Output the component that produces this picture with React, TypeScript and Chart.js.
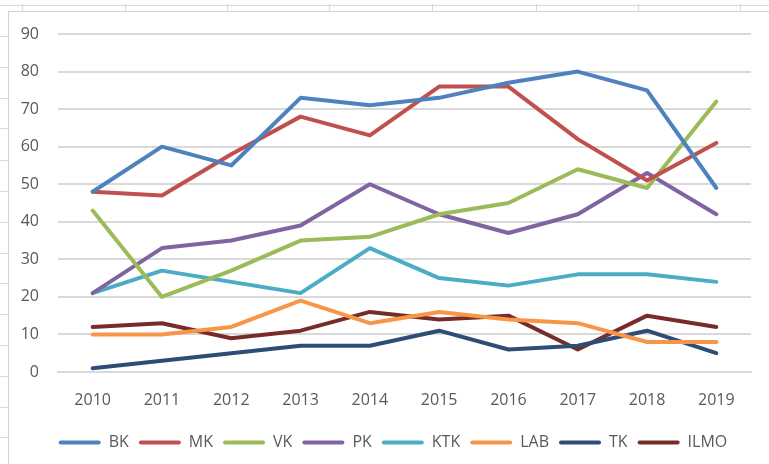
import React, { useEffect, useRef } from "react";
import { Chart, registerables } from "chart.js";

Chart.register(...registerables);

const years = ["2010", "2011", "2012", "2013", "2014", "2015", "2016", "2017", "2018", "2019"];
const BK = [48, 60, 55, 73, 71, 73, 77, 80, 75, 49];
const MK = [48, 47, 58, 68, 63, 76, 76, 62, 51, 61];
const VK = [43, 20, 27, 35, 36, 42, 45, 54, 49, 72];
const PK = [21, 33, 35, 39, 50, 42, 37, 42, 53, 42];
const KTK = [21, 27, 24, 21, 33, 25, 23, 26, 26, 24];
const LAB = [10, 10, 12, 19, 13, 16, 14, 13, 8, 8];
const TK = [1, 3, 5, 7, 7, 11, 6, 7, 11, 5];
const ILMO = [12, 13, 9, 11, 16, 14, 15, 6, 15, 12];

const seriesNames = ["BK", "MK", "VK", "PK", "KTK", "LAB", "TK", "ILMO"];
const seriesData = [BK, MK, VK, PK, KTK, LAB, TK, ILMO];
const seriesColors = ["#4F81BD", "#C0504D", "#9BBB59", "#8064A2", "#4BACC6", "#F79646", "#2C4D75", "#772C2A"];

const colTicks = [22, 125, 227, 329, 432, 536, 638, 740];
const rowTicks = [36, 67, 98, 128, 160, 191, 222, 253, 283, 314, 345, 376, 407, 437];

const legendFullWidth = {
  id: "legendFullWidth",
  afterLayout(chart: any) {
    const l = chart.legend;
    if (!l) return;
    l.left = 0;
    l.right = chart.width;
    l.width = chart.width;
  },
};

export default function App() {
  const ref = useRef<HTMLCanvasElement>(null);
  useEffect(() => {
    if (!ref.current) return;
    const font = { family: "'Open Sans', sans-serif", size: 16 };
    const chart = new Chart(ref.current, {
      type: "line",
      data: {
        labels: years,
        datasets: seriesNames.map((n, i) => ({
          label: n,
          data: seriesData[i],
          borderColor: seriesColors[i],
          backgroundColor: seriesColors[i],
          borderWidth: 4,
          pointRadius: 0,
          tension: 0,
          borderCapStyle: "round" as const,
          borderJoinStyle: "round" as const,
        })),
      },
      plugins: [legendFullWidth],
      options: {
        animation: false,
        responsive: false,
        devicePixelRatio: 1,
        layout: { padding: { top: 34, right: 35, bottom: 19.5, left: 0 } },
        plugins: {
          tooltip: { enabled: false },
          legend: {
            position: "bottom",
            labels: {
              font,
              color: "#595959",
              boxWidth: 42,
              boxHeight: 4,
              padding: 10,
              useBorderRadius: true,
              borderRadius: 2,
              generateLabels: (c: any) =>
                Chart.defaults.plugins.legend.labels.generateLabels(c).map((l: any) => ({
                  ...l,
                  lineWidth: 0,
                  fillStyle: l.strokeStyle,
                })),
            },
          },
        },
        scales: {
          x: {
            offset: true,
            grid: { display: false, drawTicks: false },
            border: { display: true, color: "#d9d9d9", width: 2 },
            ticks: { font, color: "#595959", padding: 19, maxRotation: 0 },
            afterFit: (s: any) => {
              s.height = 52.5;
            },
          },
          y: {
            min: 0,
            max: 90,
            grid: { color: "#d9d9d9", lineWidth: 2, drawTicks: false },
            border: { display: false },
            ticks: { stepSize: 10, font, color: "#595959", padding: 19 },
            afterFit: (s: any) => {
              s.width = 58;
            },
          },
        },
      },
    });
    return () => chart.destroy();
  }, []);

  return (
    <div style={{ position: "fixed", inset: 0, overflow: "hidden", background: "#fff" }}>
      <div style={{ position: "absolute", left: 0, top: 5, width: 769, height: 1, background: "#d9d9d9" }} />
      {colTicks.map((x) => (
        <div key={"c" + x} style={{ position: "absolute", left: x, top: 4, width: 1, height: 7, background: "#d9d9d9" }} />
      ))}
      {rowTicks.map((y) => (
        <div key={"r" + y} style={{ position: "absolute", left: 0, top: y, width: 8, height: 1, background: "#d9d9d9" }} />
      ))}
      <div
        style={{
          position: "absolute",
          left: 8,
          top: 11,
          width: 800,
          height: 500,
          borderLeft: "1px solid #d0d0d0",
          borderTop: "1px solid #d0d0d0",
        }}
      />
      <canvas ref={ref} width={786} height={480} style={{ position: "absolute", left: 0, top: 0 }} />
    </div>
  );
}
